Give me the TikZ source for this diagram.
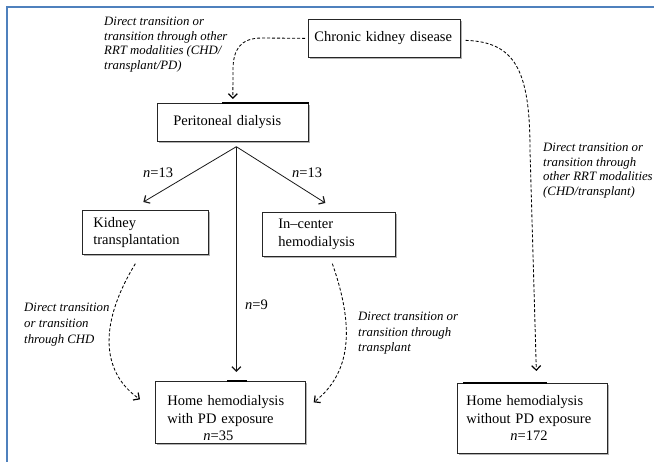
\documentclass[tikz,border=0pt]{standalone}
\usepackage{fontspec}
\setmainfont{Liberation Serif}[ItalicFont={Liberation Serif Italic},BoldFont={Liberation Serif Bold}]
\usetikzlibrary{arrows.meta,shadows,calc}
\definecolor{frameblue}{RGB}{79,129,189}
\begin{document}
\begin{tikzpicture}[x=1pt,y=-1pt,
  box/.style={draw=black!85, line width=0.7pt, fill=white, rectangle, anchor=north west,
    align=left, inner ysep=1pt, font=\fontsize{14.5}{17.5}\selectfont,
    drop shadow={shadow xshift=1.2pt,shadow yshift=-1.2pt,fill=black!30,opacity=1}},
  lbl/.style={font=\itshape\fontsize{12.8}{14.5}\selectfont, anchor=north west, inner sep=0pt, align=left},
  nlbl/.style={font=\fontsize{14.5}{17}\selectfont, anchor=base west, inner sep=0pt},
  solidarrow/.style={draw=black!90, line width=0.8pt, -{Straight Barb[length=4.5pt,width=9pt,line width=1.2pt]}},
  dasharrow/.style={draw=black, line width=0.85pt, dash pattern=on 3pt off 2pt, -{Straight Barb[length=4.5pt,width=9pt,line width=1.2pt]}},
  thickedge/.style={line width=1.6pt, black}]
\useasboundingbox (0,0) rectangle (654,462);
\fill[white] (0,0) rectangle (654,462);
% frame
\draw[frameblue, line width=2pt] (654,7.5) -- (7,7.5) -- (7,462);

% boxes
\node[box, minimum width=152pt, minimum height=38pt, inner xsep=6pt, text width=140pt] (ckd) at (308,19) {Chronic kidney disease};
\node[box, minimum width=151pt, minimum height=38pt, inner xsep=16pt, text width=119pt] (pd) at (157,103) {Peritoneal dialysis};
\node[box, minimum width=126pt, minimum height=44pt, inner xsep=11pt, text width=104pt] (kt) at (82,210) {Kidney\\transplantation};
\node[box, minimum width=133pt, minimum height=44pt, inner xsep=16pt, text width=101pt] (ic) at (262,212) {In--center\\hemodialysis};
\node[box, minimum width=150pt, minimum height=62pt, inner xsep=12pt, text width=126pt] (hp) at (155,381) {\rule{0pt}{22pt}Home hemodialysis\\with PD exposure\\\hspace*{36pt}\textit{n}=35};
\node[box, minimum width=150pt, minimum height=70pt, inner xsep=9pt, text width=132pt] (hn) at (457,383) {Home hemodialysis\\without PD exposure\\\hspace*{44pt}\textit{n}=172};

% thick top edge segments
\draw[thickedge] ([xshift=65pt]pd.north west) -- (pd.north east);
\draw[thickedge] ([xshift=72pt]hp.north west) -- ([xshift=92pt]hp.north west);
\draw[thickedge] ([xshift=6pt]hn.north west) -- ([xshift=90pt]hn.north west);

% solid arrows from PD
\coordinate (pdo) at ([xshift=3.5pt,yshift=-5pt]pd.south);
\draw[solidarrow] (pdo) -- ([xshift=-2pt,yshift=8pt]kt.north);
\draw[solidarrow] (pdo) -- ([xshift=-3.5pt,yshift=9pt]ic.north);
\draw[solidarrow] (pdo) -- ([xshift=6pt,yshift=9pt]hp.north);

\node[nlbl] (n1) at (143,178) {\textit{n}=13};
\node[nlbl] (n2) at (292,178) {\textit{n}=13};
\node[nlbl] (n3) at (245,310) {\textit{n}=9};

% dashed arrows
\draw[dasharrow] ([xshift=-3pt]ckd.west) -- (262,38) .. controls (240,38) and (233,50) .. (233,70) -- ([yshift=4pt]pd.north);
\draw[dasharrow] ([xshift=5pt,yshift=-2pt]ckd.east) .. controls (515,42) and (530,70) .. (530,150) -- ([xshift=4pt,yshift=12pt]hn.north);
\draw[dasharrow] ([xshift=-10pt,yshift=-9pt]kt.south) .. controls (95,330) and (105,375) .. ([xshift=-15pt,yshift=13pt]hp.west);
\draw[dasharrow] ([xshift=3.5pt,yshift=-7pt]ic.south) .. controls (352,320) and (355,370) .. ([xshift=8pt,yshift=10pt]hp.east);

% italic labels
\node[lbl] (l1) at (104,17) {Direct transition or\\transition through other\\RRT modalities (CHD/\\transplant/PD)};
\node[lbl] (l2) at (543,143) {Direct transition or\\transition through\\other RRT modalities\\(CHD/transplant)};
\node[lbl, font=\itshape\fontsize{12.8}{16}\selectfont] (l3) at (24,303) {Direct transition\\or transition\\through CHD};
\node[lbl, font=\itshape\fontsize{12.8}{15.5}\selectfont] (l4) at (358,312) {Direct transition or\\transition through\\transplant};
\end{tikzpicture}
\end{document}
